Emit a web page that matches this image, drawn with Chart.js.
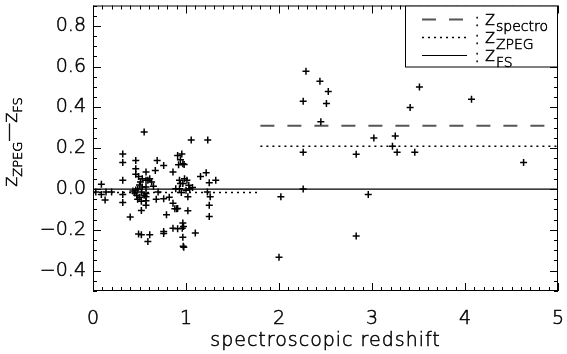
<!DOCTYPE html>
<html>
  <head>
    <meta charset="utf-8" />
    <title>zZPEG - zFS vs spectroscopic redshift</title>
    <script src="https://cdn.jsdelivr.net/npm/chart.js@4.4.0/dist/chart.umd.min.js"></script>
    <style>
      body { margin: 0; background: #fff; }
      #wrap { width: 567px; height: 354px; }
    </style>
  </head>
  <body>
    <div id="wrap"><canvas id="myChart"></canvas></div>
    <script>
      // spectroscopic redshift of each object
      const zSpec = [
        0.03, 0.09, 0.09, 0.14, 0.13, 0.2,
        0.32, 0.32, 0.32, 0.32, 0.32, 0.4,
        0.46, 0.46, 0.46, 0.49, 0.53, 0.59,
        0.43, 0.45, 0.47, 0.48, 0.5, 0.5, 0.52, 0.53, 0.55, 0.48, 0.52, 0.46, 0.51,
        0.52, 0.49, 0.52, 0.61, 0.59, 0.55,
        0.57, 0.57, 0.57, 0.57, 0.57, 0.57, 0.57,
        0.61, 0.63, 0.65, 0.69, 0.67, 0.7, 0.68,
        0.76, 0.82, 0.76, 0.79, 0.76, 0.76,
        0.86, 0.86, 0.91, 0.88, 0.9, 0.86, 0.89,
        0.91, 0.955, 0.94, 0.92, 0.966, 0.98,
        0.93, 0.94, 0.984, 1.01, 0.966, 1.03, 1.04, 1.0, 0.93,
        0.95, 1.02, 1.02, 0.91,
        0.966, 0.973, 0.96, 0.966, 0.97, 0.976,
        1.1, 1.056, 1.234, 1.156, 1.217, 1.25, 1.32, 1.23, 1.26, 1.25, 1.25, 1.07,
        2.29, 2.44, 2.53, 2.26, 2.51, 2.45, 3.41, 3.51, 3.02, 3.25, 3.22,
        2.26, 2.83, 3.27, 3.46, 4.07, 4.63, 2.02, 2.26, 2.96, 2.83, 2.0
      ];
      // zZPEG - zFS for each object
      const dz = [
        -0.014, 0.023, -0.027, -0.014, -0.054, -0.014,
        0.172, 0.13, 0.043, -0.027, -0.066, -0.137,
        0.14, 0.1, 0.072, 0.062, 0.051, 0.043,
        -0.01, -0.02, -0.03, 0.0, 0.02, -0.04, -0.015, 0.01, -0.03, -0.05, -0.06, -0.005, 0.035,
        -0.105, -0.22, -0.224, -0.224, -0.257, 0.28,
        0.083, 0.043, 0.01, -0.022, -0.038, -0.058, -0.079,
        0.05, 0.034, 0.014, 0.14, 0.091, -0.014, -0.05,
        0.115, -0.04, -0.048, -0.126, -0.208, -0.218,
        0.083, -0.192, -0.195, -0.097, -0.097, -0.07, 0.002,
        0.164, 0.172, 0.143, 0.119, 0.124, 0.12,
        0.043, 0.027, 0.051, 0.043, 0.027, 0.018, 0.002, -0.006, 0.002,
        -0.017, -0.038, -0.106, -0.095,
        -0.167, -0.184, -0.192, -0.237, -0.281, -0.286,
        -0.216, 0.24, 0.24, 0.062, 0.08, 0.031, 0.043, -0.014, -0.038, -0.079, -0.135, 0.007,
        0.577, 0.528, 0.478, 0.43, 0.42, 0.33, 0.4, 0.5, 0.25, 0.26, 0.21,
        0.18, 0.17, 0.18, 0.18, 0.44, 0.13, -0.038, 0.0, -0.027, -0.23, -0.334
      ];

      // median levels, low-z and high-z parts
      const lowRange = [0, 1.8];
      const highRange = [1.8, 5];
      const spectroHigh = 0.31;
      const zpegLow = -0.017;
      const zpegHigh = 0.21;
      const fsLevel = 0;

      const xTicks = [0, 1, 2, 3, 4, 5];
      const yTicks = [-0.4, -0.2, 0.0, 0.2, 0.4, 0.6, 0.8];
      const legendNames = [["z", "spectro"], ["z", "ZPEG"], ["z", "FS"]];

      const FONT = "'DejaVu Sans', sans-serif";
      const WEIGHT = 200;
      const STROKE = 0.5;
      const seg = (xs, y) => xs.map((x) => ({ x: x, y: y }));
      const font = (size) => WEIGHT + " " + size + "px " + FONT;

      function text(ctx, s, x, y) {
        ctx.fillText(s, x, y);
        ctx.strokeText(s, x, y);
      }

      // inward ticks on all four sides, the titles and the framed legend
      const decor = {
        id: "decor",
        afterDraw(chart) {
          const ctx = chart.ctx;
          const a = chart.chartArea;
          const xs = chart.scales.x, ys = chart.scales.y;
          ctx.save();
          ctx.strokeStyle = "#000";
          ctx.lineWidth = 1;
          ctx.strokeRect(a.left + 0.5, a.top + 0.5, a.right - a.left - 1, a.bottom - a.top - 1);
          ctx.beginPath();
          for (let i = 0; i <= 50; i++) {
            const px = Math.round(xs.getPixelForValue(i / 10)) + 0.5;
            const len = i % 10 === 0 ? 8 : 4;
            ctx.moveTo(px, a.bottom); ctx.lineTo(px, a.bottom - len);
            ctx.moveTo(px, a.top); ctx.lineTo(px, a.top + len);
          }
          for (let i = -10; i <= 18; i++) {
            const py = Math.round(ys.getPixelForValue(i / 20)) + 0.5;
            const len = i % 4 === 0 ? 8 : 4;
            ctx.moveTo(a.left, py); ctx.lineTo(a.left + len, py);
            ctx.moveTo(a.right, py); ctx.lineTo(a.right - len, py);
          }
          ctx.stroke();

          // y axis title with subscripts
          ctx.fillStyle = "#000";
          ctx.lineWidth = STROKE;
          ctx.translate(17, 142);
          ctx.rotate(-Math.PI / 2);
          ctx.textBaseline = "alphabetic";
          const parts = [["z", 19, 0], ["ZPEG", 13, 5], ["\u2014", 19, -2], ["z", 19, 0], ["FS", 13, 5]];
          let w = 0;
          parts.forEach((p) => { ctx.font = font(p[1]); w += ctx.measureText(p[0]).width; });
          let cx = -w / 2;
          parts.forEach((p) => {
            ctx.font = font(p[1]);
            text(ctx, p[0], cx, p[2]);
            cx += ctx.measureText(p[0]).width;
          });
          ctx.setTransform(1, 0, 0, 1, 0, 0);

          // x axis title
          ctx.font = font(19);
          ctx.letterSpacing = "1px";
          ctx.textAlign = "center";
          text(ctx, "spectroscopic redshift", (a.left + a.right) / 2, 346);
          ctx.letterSpacing = "0px";

          // legend box
          const bx = a.right - 153, by = a.top, bh = 61;
          ctx.fillStyle = "#fff";
          ctx.fillRect(bx, by, a.right - bx, bh);
          ctx.lineWidth = 1;
          ctx.strokeRect(bx + 0.5, by + 0.5, a.right - bx - 1, bh);
          const styles = [
            { dash: [14, 13], color: "#555", width: 2 },
            { dash: [2, 4], color: "#000", width: 1.5 },
            { dash: [], color: "#000", width: 1.2 }
          ];
          legendNames.forEach((n, i) => {
            const ly = by + 14 + i * 18;
            ctx.beginPath();
            ctx.setLineDash(styles[i].dash);
            ctx.strokeStyle = styles[i].color;
            ctx.lineWidth = styles[i].width;
            ctx.moveTo(bx + 17, ly); ctx.lineTo(bx + 62, ly);
            ctx.stroke();
            ctx.setLineDash([]);
            ctx.fillStyle = "#000";
            ctx.strokeStyle = "#000";
            ctx.lineWidth = STROKE;
            ctx.textAlign = "left";
            ctx.font = font(19);
            text(ctx, ":", bx + 69, ly + 6);
            text(ctx, n[0], bx + 80, ly + 5);
            const zw = ctx.measureText(n[0]).width;
            ctx.font = font(14);
            text(ctx, n[1], bx + 80 + zw + 1, ly + 11);
          });
          ctx.restore();
        }
      };

      const data = {
        datasets: [
          {
            type: "scatter",
            label: "objects",
            data: zSpec.map((x, i) => ({ x: x, y: dz[i] })),
            pointStyle: "cross",
            pointRadius: 3.5,
            pointBorderWidth: 1.5,
            borderColor: "#000",
            backgroundColor: "#000"
          },
          {
            type: "line",
            label: "z_FS",
            data: seg([0, 5], fsLevel),
            borderColor: "#000",
            borderWidth: 1.2,
            pointRadius: 0
          },
          {
            type: "line",
            label: "z_ZPEG low",
            data: seg(lowRange, zpegLow),
            borderColor: "#000",
            borderWidth: 1.5,
            borderDash: [2, 4],
            pointRadius: 0
          },
          {
            type: "line",
            label: "z_ZPEG high",
            data: seg(highRange, zpegHigh),
            borderColor: "#000",
            borderWidth: 1.5,
            borderDash: [2, 4],
            pointRadius: 0
          },
          {
            type: "line",
            label: "z_spectro high",
            data: seg(highRange, spectroHigh),
            borderColor: "#555",
            borderWidth: 2,
            borderDash: [14, 13],
            pointRadius: 0
          }
        ]
      };

      const tickFont = { family: FONT, size: 19, weight: WEIGHT };

      const config = {
        type: "scatter",
        data: data,
        options: {
          responsive: true,
          maintainAspectRatio: false,
          animation: false,
          layout: { padding: { top: 4, right: 9, left: 0, bottom: 0 } },
          plugins: {
            legend: { display: false },
            tooltip: { enabled: false }
          },
          scales: {
            x: {
              type: "linear",
              min: 0,
              max: 5,
              afterBuildTicks: (s) => { s.ticks = xTicks.map((v) => ({ value: v })); },
              afterFit: (s) => {
                s.height = 63;
                s.paddingLeft = 0; s.paddingRight = 0;
              },
              grid: { display: false, drawTicks: false },
              border: { display: false },
              ticks: {
                color: "#000",
                textStrokeColor: "#000",
                textStrokeWidth: STROKE,
                padding: 17,
                font: tickFont,
                callback: (v) => String(v)
              }
            },
            y: {
              type: "linear",
              min: -0.5,
              max: 0.9,
              afterBuildTicks: (s) => { s.ticks = yTicks.map((v) => ({ value: v })); },
              afterFit: (s) => {
                s.width = 93;
                s.paddingTop = 0; s.paddingBottom = 0;
              },
              grid: { display: false, drawTicks: false },
              border: { display: false },
              ticks: {
                color: "#000",
                textStrokeColor: "#000",
                textStrokeWidth: STROKE,
                padding: 7,
                font: tickFont,
                callback: (v) => v.toFixed(1).replace("-", "\u2212")
              }
            }
          }
        },
        plugins: [decor]
      };

      const ctx = document.getElementById("myChart");
      const myChart = new Chart(ctx, config);
    </script>
  </body>
</html>
